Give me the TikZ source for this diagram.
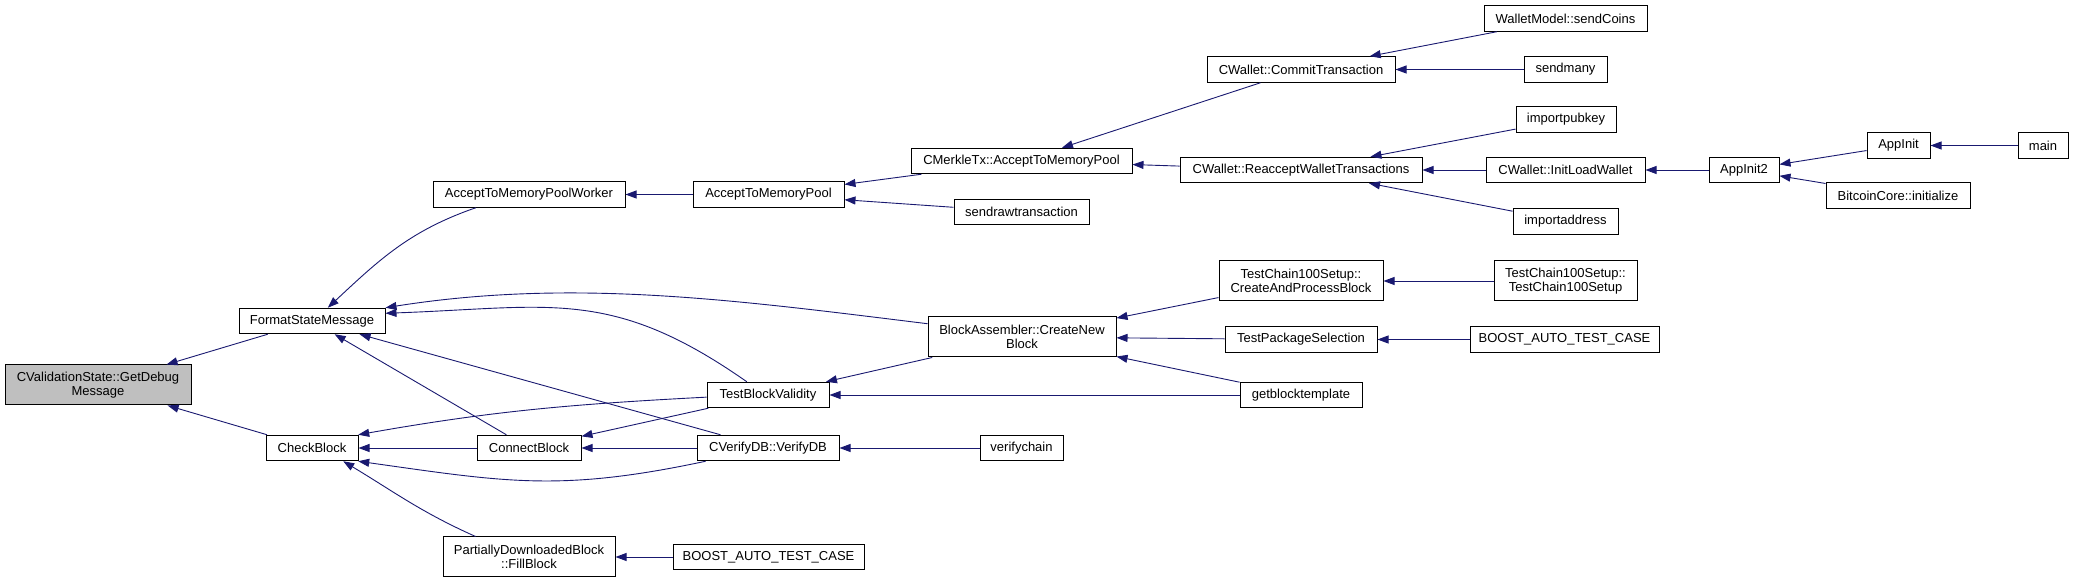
\documentclass[tikz,border=0pt]{standalone}
\usepackage{fontspec}
\setmainfont{Liberation Sans}
\usetikzlibrary{arrows.meta}
\definecolor{edgeblue}{HTML}{191970}
\definecolor{selgray}{HTML}{BFBFBF}
\begin{document}
\begin{tikzpicture}[x=1pt,y=1pt,
  fn/.style={draw=black,line width=1pt,fill=white,inner sep=0pt,minimum height=25.5pt,align=center,font=\fontsize{13}{14.5}\selectfont},
  fn2/.style={fn,minimum height=40pt},
  call/.style={draw=edgeblue,line width=0.9pt,-{Triangle[length=11pt,width=8pt]}}]
\useasboundingbox (0,0) rectangle (2075,583);
% functions, one column per rank
\node[fn2,fill=selgray,minimum width=186pt] (gds) at (98,198) {CValidationState::GetDebug\\Message};
\node[fn,minimum width=146pt] (fsm) at (312,262) {FormatStateMessage};
\node[fn,minimum width=92pt] (cb) at (312,135) {CheckBlock};
\node[fn,minimum width=192pt] (atmpw) at (529,388.5) {AcceptToMemoryPoolWorker};
\node[fn,minimum width=104pt] (conb) at (529,135) {ConnectBlock};
\node[fn2,minimum width=172pt] (pdb) at (529,26) {PartiallyDownloadedBlock\\::FillBlock};
\node[fn,minimum width=151pt] (atmp) at (768.5,388.5) {AcceptToMemoryPool};
\node[fn,minimum width=122pt] (tbv) at (768,188) {TestBlockValidity};
\node[fn,minimum width=142pt] (vdb) at (768,135) {CVerifyDB::VerifyDB};
\node[fn,minimum width=191pt] (batc1) at (768.5,26) {BOOST\_AUTO\_TEST\_CASE};
\node[fn,minimum width=221pt] (cmtx) at (1021.5,422) {CMerkleTx::AcceptToMemoryPool};
\node[fn,minimum width=135pt] (srt) at (1021.5,371) {sendrawtransaction};
\node[fn2,minimum width=188pt] (bacnb) at (1022,246) {BlockAssembler::CreateNew\\Block};
\node[fn,minimum width=83pt] (vc) at (1021.5,135) {verifychain};
\node[fn,minimum width=188pt] (cwct) at (1301,513.5) {CWallet::CommitTransaction};
\node[fn,minimum width=242pt] (cwrwt) at (1301,413) {CWallet::ReacceptWalletTransactions};
\node[fn2,minimum width=164pt] (tccapb) at (1301,302) {TestChain100Setup::\\CreateAndProcessBlock};
\node[fn,minimum width=152pt] (tps) at (1301,243.5) {TestPackageSelection};
\node[fn,minimum width=122pt] (gbt) at (1301,188) {getblocktemplate};
\node[fn,minimum width=163pt] (wmsc) at (1565.5,564.5) {WalletModel::sendCoins};
\node[fn,minimum width=83pt] (sm) at (1565.5,513.5) {sendmany};
\node[fn,minimum width=100pt] (ipk) at (1566,463.5) {importpubkey};
\node[fn,minimum width=159pt] (cwilw) at (1565.5,413) {CWallet::InitLoadWallet};
\node[fn,minimum width=105pt] (ia) at (1565.5,361.5) {importaddress};
\node[fn2,minimum width=143pt] (tcs) at (1565.5,302) {TestChain100Setup::\\TestChain100Setup};
\node[fn,minimum width=189pt] (batc2) at (1564.5,243.5) {BOOST\_AUTO\_TEST\_CASE};
\node[fn,minimum width=70pt] (ai2) at (1744,413) {AppInit2};
\node[fn,minimum width=63pt] (ai) at (1898.5,437.5) {AppInit};
\node[fn,minimum width=144pt] (bci) at (1898,387.5) {BitcoinCore::initialize};
\node[fn,minimum width=50pt] (main) at (2043,437.5) {main};
% callers -> callees
\draw[call] (fsm) -- (gds);
\draw[call] (cb) -- (gds);
\draw[call] (atmpw.194) to[out=199,in=43] (fsm.40);
\draw[call] (bacnb.172) to[out=173,in=9,looseness=0.9] (fsm.north east);
\draw[call] (tbv.148) to[out=145,in=2,looseness=1.15] (fsm.6);
\draw[call] (vdb) -- (fsm);
\draw[call] (conb) -- (fsm);
\draw[call] (tbv.182) to[out=183,in=10] (cb.16);
\draw[call] (conb) -- (cb);
\draw[call] (vdb.192) to[out=192,in=-8,looseness=1.1] (cb.-16);
\draw[call] (pdb.159) to[out=156,in=-31] (cb.-23);
\draw[call] (atmp) -- (atmpw);
\draw[call] (tbv) -- (conb);
\draw[call] (vdb) -- (conb);
\draw[call] (batc1) -- (pdb);
\draw[call] (cmtx) -- (atmp);
\draw[call] (srt) -- (atmp);
\draw[call] (bacnb) -- (tbv);
\draw[call] (gbt) -- (tbv);
\draw[call] (vc) -- (vdb);
\draw[call] (cwct) -- (cmtx);
\draw[call] (cwrwt) -- (cmtx);
\draw[call] (tccapb) -- (bacnb);
\draw[call] (tps) -- (bacnb);
\draw[call] (gbt) -- (bacnb);
\draw[call] (wmsc) -- (cwct);
\draw[call] (sm) -- (cwct);
\draw[call] (ipk) -- (cwrwt);
\draw[call] (cwilw) -- (cwrwt);
\draw[call] (ia) -- (cwrwt);
\draw[call] (tcs) -- (tccapb);
\draw[call] (batc2) -- (tps);
\draw[call] (ai2) -- (cwilw);
\draw[call] (ai) -- (ai2);
\draw[call] (bci) -- (ai2);
\draw[call] (main) -- (ai);
\end{tikzpicture}
\end{document}
